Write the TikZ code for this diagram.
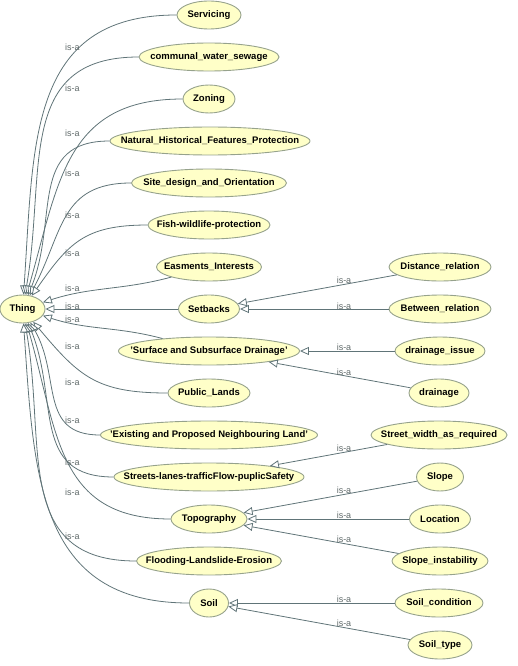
\documentclass[tikz,border=0pt]{standalone}
\usepackage{fontspec}
\setsansfont{Liberation Sans}
\usetikzlibrary{shapes.geometric,arrows.meta}

\definecolor{clsfill}{RGB}{255,255,200}
\definecolor{clsline}{RGB}{150,162,140}
\definecolor{isaline}{RGB}{96,116,120}
\definecolor{isatext}{RGB}{96,106,106}

\tikzset{
  cls/.style={ellipse, draw=clsline, fill=clsfill, line width=0.9pt,
    inner sep=0pt, minimum height=28pt, minimum width=#1,
    font=\sffamily\bfseries\fontsize{9.5}{10}\selectfont},
  isa/.style={draw=isaline, line width=0.8pt,
    -{Triangle[length=9pt,width=8pt,fill=white]}},
  isalbl/.style={font=\sffamily\fontsize{9}{10}\selectfont, text=isatext,
    inner sep=0pt},
}
\newcommand{\clsbox}[1]{\makebox[0pt]{#1}}

\begin{document}
\begin{tikzpicture}[x=1pt, y=-1pt]
    \useasboundingbox (0,0) rectangle (517,666);

    % root
    \node[cls=45pt] (thing) at (22.5,309) {\clsbox{Thing}};

    % first level
    \node[cls=64pt]  (servicing)  at (209,15)  {\clsbox{Servicing}};
    \node[cls=140pt] (sewage)     at (209,57)  {\clsbox{communal\_water\_sewage}};
    \node[cls=52pt]  (zoning)     at (209,99)  {\clsbox{Zoning}};
    \node[cls=200pt] (natfeat)    at (210,141) {\clsbox{Natural\_Historical\_Features\_Protection}};
    \node[cls=155pt] (sitedesign) at (209,183) {\clsbox{Site\_design\_and\_Orientation}};
    \node[cls=122pt] (fish)       at (209,225) {\clsbox{Fish-wildlife-protection}};
    \node[cls=105pt] (easments)   at (209,267) {\clsbox{Easments\_Interests}};
    \node[cls=61pt]  (setbacks)   at (209,309) {\clsbox{Setbacks}};
    \node[cls=181pt] (drainsurf)  at (209,351) {\clsbox{'Surface and Subsurface Drainage'}};
    \node[cls=82pt]  (publands)   at (209,393) {\clsbox{Public\_Lands}};
    \node[cls=217pt] (neighland)  at (209,435) {\clsbox{'Existing and Proposed Neighbouring Land'}};
    \node[cls=190pt] (streets)    at (209,477) {\clsbox{Streets-lanes-trafficFlow-puplicSafety}};
    \node[cls=76pt]  (topo)       at (209,519) {\clsbox{Topography}};
    \node[cls=145pt] (flooding)   at (209,561) {\clsbox{Flooding-Landslide-Erosion}};
    \node[cls=39pt]  (soil)       at (209,603) {\clsbox{Soil}};

    % second level
    \node[cls=102pt] (distrel)     at (440,267) {\clsbox{Distance\_relation}};
    \node[cls=102pt] (betrel)      at (440,309) {\clsbox{Between\_relation}};
    \node[cls=90pt]  (drainissue)  at (440,351) {\clsbox{drainage\_issue}};
    \node[cls=60pt]  (drainage)    at (439,393) {\clsbox{drainage}};
    \node[cls=136pt] (streetwidth) at (439,435) {\clsbox{Street\_width\_as\_required}};
    \node[cls=47pt]  (slope)       at (440,477) {\clsbox{Slope}};
    \node[cls=61pt]  (location)    at (440,519) {\clsbox{Location}};
    \node[cls=96pt]  (slopeinst)   at (440,561) {\clsbox{Slope\_instability}};
    \node[cls=88pt]  (soilcond)    at (439,603) {\clsbox{Soil\_condition}};
    \node[cls=64pt]  (soiltype)    at (440,645) {\clsbox{Soil\_type}};

    % is-a links to Thing
    \foreach \n/\a in {servicing/86, sewage/80, zoning/74, natfeat/68,
                       sitedesign/62, fish/55, publands/-50, neighland/-60,
                       streets/-68, topo/-74, flooding/-80, soil/-86}
        \draw[isa] (\n) to[out=180, in=\a, looseness=1.2] (thing);
    \draw[isa] (easments) to[out=195, in=18] (thing);
    \draw[isa] (setbacks) -- (thing);
    \draw[isa] (drainsurf) to[out=165, in=-18] (thing);

    % is-a links of the second level
    \draw[isa] (distrel) -- (setbacks);
    \draw[isa] (betrel) -- (setbacks);
    \draw[isa] (drainissue) -- (drainsurf);
    \draw[isa] (drainage) -- (drainsurf);
    \draw[isa] (streetwidth) -- (streets);
    \draw[isa] (slope) -- (topo);
    \draw[isa] (location) -- (topo);
    \draw[isa] (slopeinst) -- (topo);
    \draw[isa] (soilcond) -- (soil);
    \draw[isa] (soiltype) -- (soil);

    % labels
    \foreach \y [count=\i] in {47,88,133,173,215,253,288,306,319,346,382,420,462,492,536}
        \node[isalbl] (lbl\i) at (72.5,\y) {is-a};
    \foreach \y [count=\i] in {280,306,347,372,448,490,515,539,599,623}
        \node[isalbl] (rlbl\i) at (344,\y) {is-a};
\end{tikzpicture}
\end{document}
